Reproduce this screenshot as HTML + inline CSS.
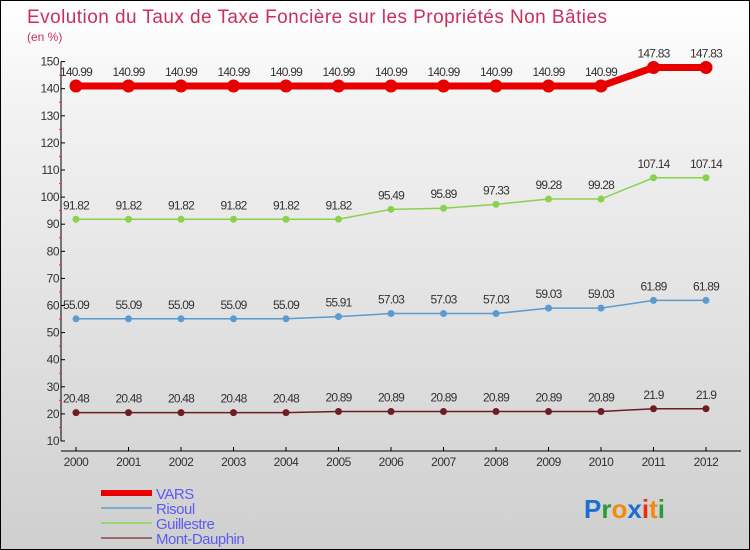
<!DOCTYPE html>
<html><head><meta charset="utf-8"><style>
body{margin:0}
#c{position:relative;width:750px;height:550px;box-sizing:border-box;border:1px solid #000;background:linear-gradient(#fff,#f2f2f2 20%,#cfcfcf);font-family:"Liberation Sans",sans-serif;overflow:hidden}
</style></head><body>
<div id="c">
<svg id="s" width="748" height="548" style="position:absolute;left:0;top:0"></svg>
</div>
<script>
const years=["2000","2001","2002","2003","2004","2005","2006","2007","2008","2009","2010","2011","2012"];
const vars=[140.99,140.99,140.99,140.99,140.99,140.99,140.99,140.99,140.99,140.99,140.99,147.83,147.83];
const risoul=[55.09,55.09,55.09,55.09,55.09,55.91,57.03,57.03,57.03,59.03,59.03,61.89,61.89];
const guillestre=[91.82,91.82,91.82,91.82,91.82,91.82,95.49,95.89,97.33,99.28,99.28,107.14,107.14];
const mont=[20.48,20.48,20.48,20.48,20.48,20.89,20.89,20.89,20.89,20.89,20.89,21.9,21.9];
const yTicks=[10,20,30,40,50,60,70,80,90,100,110,120,130,140,150];
const NS="http://www.w3.org/2000/svg",s=document.getElementById('s');
const X=i=>75+i*52.5, Y=v=>440-(v-10)*27.1/10;
function el(t,a,p){const e=document.createElementNS(NS,t);for(const k in a)e.setAttribute(k,a[k]);(p||s).appendChild(e);return e;}
let t=el('text',{x:26,y:22,'font-size':19,fill:'#c8305a',textLength:580});t.textContent="Evolution du Taux de Taxe Foncière sur les Propriétés Non Bâties";

t=el('text',{x:26,y:40,'font-size':12,fill:'#c8305a'});t.textContent="(en %)";

let ax=el('line',{x1:60,y1:Y(150),x2:60,y2:Y(10),stroke:'#000'});

ax=el('line',{x1:60,y1:450,x2:740,y2:450,stroke:'#000'});

yTicks.forEach(v=>{el('line',{x1:60,y1:Y(v),x2:64,y2:Y(v),stroke:'#000'});
 if(v<150)el('line',{x1:58,y1:Y(v+5),x2:61,y2:Y(v+5),stroke:'#e33'});
 const l=el('text',{x:58,y:Y(v)+4,'font-size':12,'text-anchor':'end',fill:'#333','letter-spacing':'-0.5'});l.textContent=v;
 });
years.forEach((y,i)=>{el('line',{x1:X(i),y1:446,x2:X(i),y2:450,stroke:'#000'});
 const l=el('text',{x:X(i),y:465,'font-size':12,'text-anchor':'middle',fill:'#333','letter-spacing':'-0.5'});l.textContent=y;
 });
function series(d,col,w,r,name){
 const p=el('polyline',{points:d.map((v,i)=>X(i)+','+Y(v)).join(' '),fill:'none',stroke:col,'stroke-width':w});
 
 d.forEach((v,i)=>{const c=el('circle',{cx:X(i),cy:Y(v),r:r,fill:col});
  
  const l=el('text',{x:X(i),y:Y(v)-10,'font-size':12,'text-anchor':'middle',fill:'#333','letter-spacing':'-0.8'});l.textContent=v;
  });
}
series(mont,'#6e1e22',1.5,3.5,'mont-dauphin');
series(risoul,'#5b9bd0',1.5,3.5,'risoul');
series(guillestre,'#8ad24e',1.5,3.5,'guillestre');
series(vars,'#e80000',7,6.5,'vars');
const leg=[["VARS","#e80000",6],["Risoul","#7aaed0",2],["Guillestre","#99d870",2],["Mont-Dauphin","#9a6a6a",2]];
leg.forEach((g,i)=>{const y=492+i*15;
 const ln=el('line',{x1:100,y1:y,x2:151,y2:y,stroke:g[1],'stroke-width':g[2]});
 
 const l=el('text',{x:155,y:y+6,'font-size':15,fill:'#5c5cf0','letter-spacing':'-0.5'});l.textContent=g[0];
 });
const lg=el('text',{x:583,y:517,'font-size':26,'font-weight':'bold'});

[["P","#1a6fd0"],["r","#2a9a3a"],["o","#f08a10"],["x","#1a6fd0"],["i","#e8300a"],["t","#f08a10"],["i","#2a9a3a"]].forEach(c=>{const ts=el('tspan',{fill:c[1]},lg);ts.textContent=c[0];});
</script>
</body></html>
